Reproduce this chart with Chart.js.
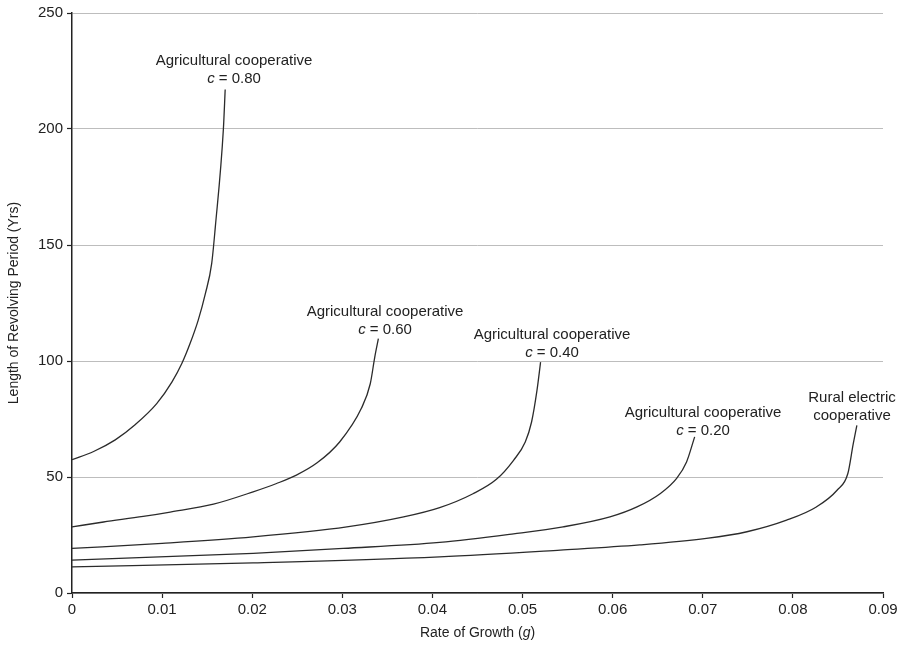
<!DOCTYPE html>
<html>
<head>
<meta charset="utf-8">
<script src="https://cdn.jsdelivr.net/npm/chart.js@4"></script>
<style>
  html, body { margin: 0; padding: 0; background: #fff; }
  #wrap { width: 910px; height: 647px; }
</style>
</head>
<body>
<div id="wrap"><canvas id="chart" width="910" height="647"></canvas></div>
<script>
// Revolving period vs growth rate

const xTicks = [0, 0.01, 0.02, 0.03, 0.04, 0.05, 0.06, 0.07, 0.08, 0.09];
const yTicks = [0, 50, 100, 150, 200, 250];

// c = 0.80
const c80G = [0, 0.0024, 0.0048, 0.007, 0.0094, 0.0111, 0.0122, 0.0131, 0.014, 0.0148, 0.0155, 0.0159, 0.0168, 0.0170];
const c80V = [57.5, 61, 66, 72.5, 81.6, 91, 99, 107.5, 117.5, 129, 142, 157.6, 200, 217];
// c = 0.60
const c60G = [0, 0.0035, 0.0079, 0.0109, 0.0157, 0.0201, 0.0227, 0.0249, 0.0272, 0.0297, 0.0321, 0.0331, 0.0336, 0.034];
const c60V = [28.5, 30.6, 33.0, 34.9, 38.3, 43.6, 47.2, 50.8, 56.1, 65.1, 79.5, 90.2, 101.7, 109.6];
// c = 0.40
const c40G = [0, 0.01, 0.0201, 0.0305, 0.0368, 0.0408, 0.0445, 0.0471, 0.049, 0.0503, 0.051, 0.0516, 0.052];
const c40V = [19.2, 21.4, 24.2, 28.5, 32.8, 36.8, 42.8, 49, 57.2, 65.1, 73.7, 87.3, 99.5];
// c = 0.20
const c20G = [0, 0.0201, 0.0301, 0.0408, 0.049, 0.0545, 0.0597, 0.0627, 0.0653, 0.0671, 0.0682, 0.0691];
const c20V = [14.2, 17.1, 19.2, 21.8, 25.5, 28.5, 32.8, 37.1, 42.9, 49.4, 56.5, 67.3];
// rural electric
const ruralG = [0, 0.0201, 0.0408, 0.0542, 0.063, 0.0704, 0.0749, 0.0793, 0.0826, 0.0849, 0.0861, 0.0867, 0.0871];
const ruralV = [11.3, 13, 15.6, 18.5, 20.7, 23.5, 26.4, 31.4, 37.1, 44.3, 51.5, 64.4, 72.3];

// curve labels: first line, second line (c value or plain text), anchor
const labelLine1 = ['Agricultural cooperative', 'Agricultural cooperative', 'Agricultural cooperative', 'Agricultural cooperative', 'Rural electric'];
const labelLine2 = ['0.80', '0.60', '0.40', '0.20', 'cooperative'];
const labelIsC = [true, true, true, true, false];
const labelG = [0.01798, 0.03474, 0.05327, 0.07003, 0.08656];
const labelV = [229.3, 121.3, 111.4, 77.5, 83.9];

const xTitle = ['Rate of Growth (', 'g', ')'];
const yTitle = 'Length of Revolving Period (Yrs)';

const FONT = "'Liberation Sans', Arial, Helvetica, sans-serif";

function toPoints(xs, ys) {
  return xs.map((x, i) => ({x: x, y: ys[i]}));
}

function curve(xs, ys) {
  return {
    data: toPoints(xs, ys),
    showLine: true,
    borderColor: '#2b2b2b',
    borderWidth: 1.3,
    pointRadius: 0,
    cubicInterpolationMode: 'monotone',
    fill: false
  };
}

// draw a run of text pieces, odd pieces italic, centred on cx
function mixedText(ctx, parts, cx, cy, size) {
  const widths = parts.map((p, i) => {
    ctx.font = (i % 2 ? 'italic ' : '') + size + 'px ' + FONT;
    return ctx.measureText(p).width;
  });
  let x = cx - widths.reduce((a, b) => a + b, 0) / 2;
  ctx.textAlign = 'left';
  parts.forEach((p, i) => {
    ctx.font = (i % 2 ? 'italic ' : '') + size + 'px ' + FONT;
    ctx.fillText(p, x, cy);
    x += widths[i];
  });
}

const curveLabels = {
  id: 'curveLabels',
  afterDatasetsDraw(chart) {
    const ctx = chart.ctx;
    const xs = chart.scales.x, ys = chart.scales.y;
    const area = chart.chartArea;
    ctx.save();
    ctx.fillStyle = '#222';
    ctx.textBaseline = 'middle';
    labelLine1.forEach((t, i) => {
      const px = xs.getPixelForValue(labelG[i]);
      const py = ys.getPixelForValue(labelV[i]);
      ctx.font = '15px ' + FONT;
      ctx.textAlign = 'center';
      ctx.fillText(t, px, py);
      const y2 = py + 18;
      if (labelIsC[i]) {
        mixedText(ctx, ['', 'c', ' = ' + labelLine2[i]], px, y2, 15);
      } else {
        ctx.textAlign = 'center';
        ctx.fillText(labelLine2[i], px, y2);
      }
    });
    // axis titles
    mixedText(ctx, xTitle, (area.left + area.right) / 2, 633, 14);
    ctx.translate(14, (area.top + area.bottom) / 2);
    ctx.rotate(-Math.PI / 2);
    ctx.font = '14px ' + FONT;
    ctx.textAlign = 'center';
    ctx.fillText(yTitle, 0, 0);
    ctx.restore();
  }
};

const chart = new Chart(document.getElementById('chart').getContext('2d'), {
  type: 'scatter',
  data: {
    datasets: [
      curve(c80G, c80V),
      curve(c60G, c60V),
      curve(c40G, c40V),
      curve(c20G, c20V),
      curve(ruralG, ruralV)
    ]
  },
  options: {
    responsive: false,
    animation: false,
    layout: { padding: { left: 0, right: 27, top: 13, bottom: 0 } },
    plugins: {
      legend: { display: false },
      tooltip: { enabled: false }
    },
    scales: {
      x: {
        type: 'linear',
        min: 0,
        max: 0.09,
        afterBuildTicks: (scale) => { scale.ticks = xTicks.map(v => ({value: v})); },
        afterFit: (scale) => { scale.height = 54; },
        ticks: {
          color: '#222',
          font: { family: FONT, size: 15 },
          padding: 3,
          maxRotation: 0,
          callback: (v) => v === 0 ? '0' : v.toFixed(2)
        },
        grid: { drawOnChartArea: false, drawTicks: true, tickLength: 5, tickColor: '#222', tickWidth: 1.2 },
        border: { color: '#222', width: 1.5 }
      },
      y: {
        type: 'linear',
        min: 0,
        max: 250,
        afterBuildTicks: (scale) => { scale.ticks = yTicks.map(v => ({value: v})); },
        afterFit: (scale) => { scale.width = 72; },
        ticks: {
          color: '#222',
          font: { family: FONT, size: 15 },
          padding: 4
        },
        grid: { color: '#bdbdbd', lineWidth: 1, drawTicks: true, tickLength: 5, tickColor: '#222', tickWidth: 1.2 },
        border: { color: '#222', width: 1.5 }
      }
    }
  },
  plugins: [curveLabels]
});
</script>
</body>
</html>
